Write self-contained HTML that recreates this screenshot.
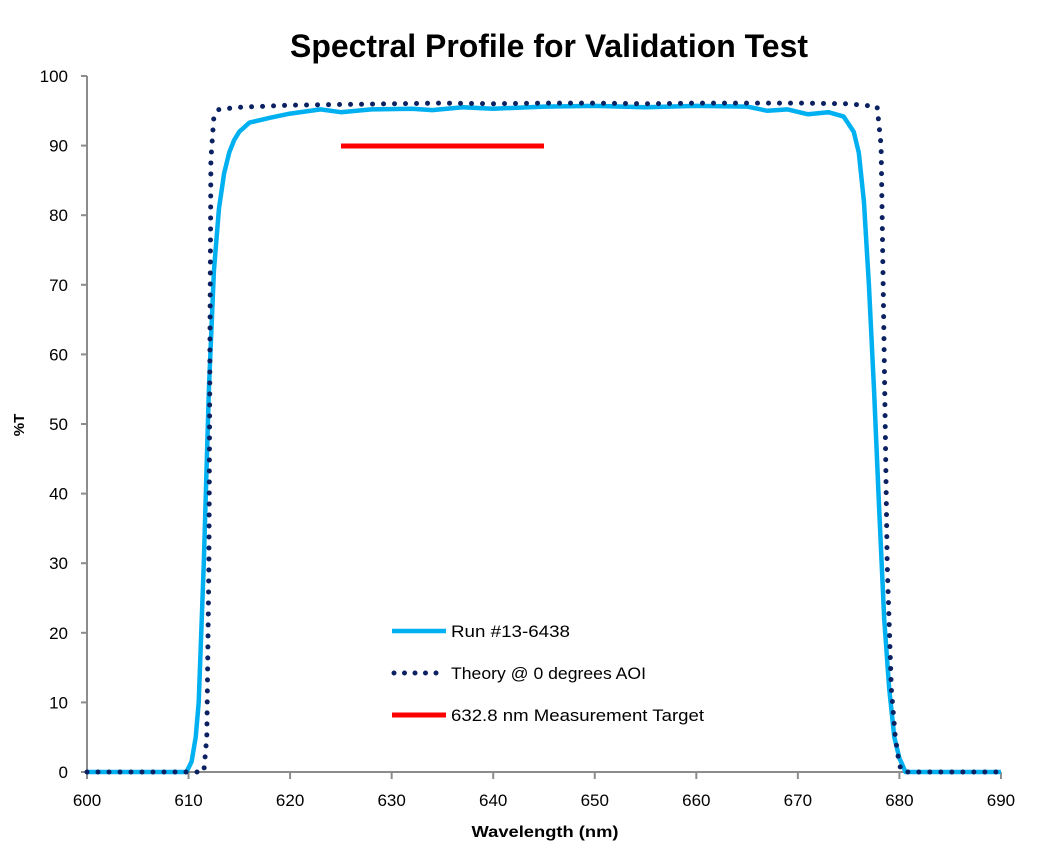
<!DOCTYPE html>
<html><head><meta charset="utf-8"><style>
body{margin:0;background:#fff}
svg{display:block}
text{font-family:"Liberation Sans",sans-serif;fill:#000}
</style></head><body>
<svg id="s" width="1037" height="858" viewBox="0 0 1037 858" xmlns="http://www.w3.org/2000/svg">
<text x="549" y="57" text-anchor="middle" font-size="32" font-weight="bold" textLength="518" lengthAdjust="spacingAndGlyphs">Spectral Profile for Validation Test</text>
<g id="ax" stroke="#8c8c8c" stroke-width="2" fill="none"></g>
<g id="lab" font-size="17"></g>
<text transform="translate(24,425) rotate(-90)" text-anchor="middle" font-size="15" font-weight="bold">%T</text>
<text x="545" y="837" text-anchor="middle" font-size="16" font-weight="bold" textLength="147" lengthAdjust="spacingAndGlyphs">Wavelength (nm)</text>
<path id="meas" fill="none" stroke="#00b0f0" stroke-width="4.5" stroke-linejoin="round"/>
<path id="theo" fill="none" stroke="#0b2161" stroke-width="5" stroke-linecap="round" stroke-dasharray="0 11"/>
<line x1="341" y1="146" x2="544" y2="146" stroke="#ff0000" stroke-width="5"/>
<line x1="392" y1="631" x2="446" y2="631" stroke="#00b0f0" stroke-width="4.5"/>
<line x1="394" y1="673" x2="446" y2="673" stroke="#0b2161" stroke-width="5" stroke-linecap="round" stroke-dasharray="0 10.5"/>
<line x1="392" y1="715" x2="446" y2="715" stroke="#ff0000" stroke-width="5"/>
<text x="451" y="637" font-size="17" textLength="119" lengthAdjust="spacingAndGlyphs">Run #13-6438</text>
<text x="451" y="679" font-size="17" textLength="195" lengthAdjust="spacingAndGlyphs">Theory @ 0 degrees AOI</text>
<text x="451" y="721" font-size="17" textLength="253" lengthAdjust="spacingAndGlyphs">632.8 nm Measurement Target</text>
</svg>
<script>
const X=w=>87+(w-600)*10.155, Y=t=>772-t*6.96;
let ax=document.getElementById('ax'),lab=document.getElementById('lab'),h='',l='';
h+=`<line x1="87" y1="76" x2="87" y2="772"/><line x1="87" y1="772" x2="1001" y2="772"/>`;
for(let t=0;t<=100;t+=10){h+=`<line x1="81" y1="${Y(t)}" x2="87" y2="${Y(t)}"/>`;l+=`<text x="68" y="${Y(t)+6}" text-anchor="end">${t}</text>`;}
for(let w=600;w<=690;w+=10){h+=`<line x1="${X(w)}" y1="772" x2="${X(w)}" y2="779"/>`;l+=`<text x="${X(w)}" y="806" text-anchor="middle">${w}</text>`;}
ax.innerHTML=h;lab.innerHTML=l;
const m=[[600,0],[609.8,0],[610.3,1.5],[610.7,5],[611,10],[611.5,30],[612,55],[612.5,72],[613,81],[613.5,86],[614,89],[614.5,90.8],[615,92],[616,93.3],[618,94],[620,94.6],[623,95.2],[625,94.8],[628,95.2],[632,95.3],[634,95.1],[637,95.5],[640,95.3],[645,95.6],[650,95.7],[655,95.5],[660,95.7],[665,95.6],[667,95.0],[669,95.2],[671,94.5],[673,94.8],[674.5,94.2],[675.5,92],[676,89],[676.5,82],[677,70],[677.5,55],[678,38],[678.5,22],[679,12],[679.5,5],[680,2],[680.6,0],[690,0]];
const t=[[600,0],[611.5,0],[611.8,5],[612,30],[612.1,60],[612.2,88],[612.5,94.2],[613,95.2],[615,95.5],[620,95.8],[625,95.9],[630,96],[635,96.1],[640,96],[645,96.1],[650,96.1],[655,96],[660,96.1],[665,96.1],[670,96.1],[675,96],[677.8,95.6],[678.2,90],[678.5,60],[678.8,30],[679.2,12],[679.6,5],[680,1],[680.3,0],[690,0]];
const p=a=>a.map((q,i)=>(i?'L':'M')+X(q[0]).toFixed(1)+' '+Y(q[1]).toFixed(1)).join('');
document.getElementById('meas').setAttribute('d',p(m));
document.getElementById('theo').setAttribute('d',p(t));
</script>
</body></html>
